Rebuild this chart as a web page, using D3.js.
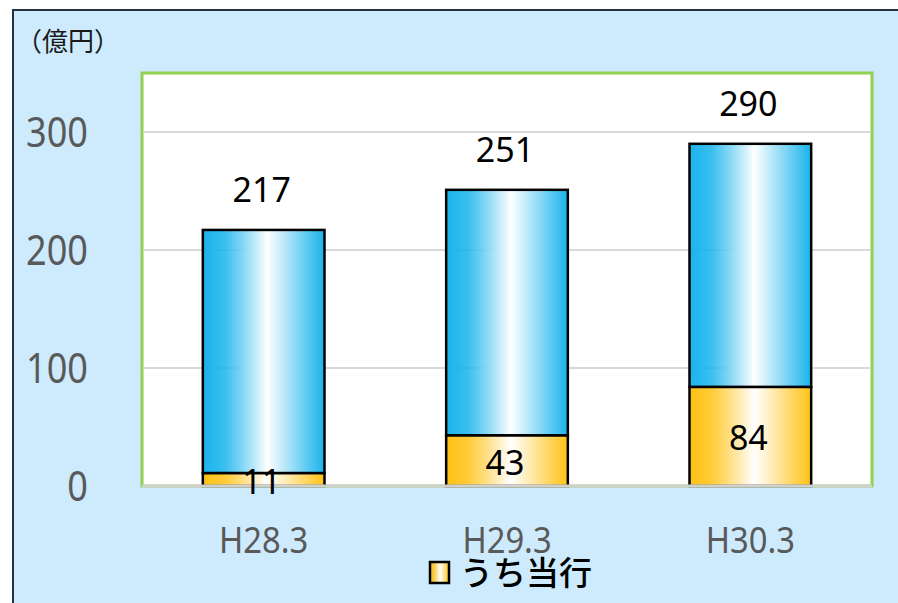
<!DOCTYPE html>
<html>
<head>
<meta charset="utf-8">
<script src="https://cdn.jsdelivr.net/npm/d3@7"></script>
<style>
  body { margin: 0; background: #ffffff; }
  svg { display: block; }
</style>
</head>
<body>
<div id="chart"></div>
<script>
// Chart data
const categories = ["H28.3", "H29.3", "H30.3"];
const totalValues = [217, 251, 290];
const ownValues = [11, 43, 84];
const yTicks = [0, 100, 200, 300];
const unitLabel = "（億円）";
const legendLabel = "うち当行";

const W = 898, H = 603;
const margin = { top: 73, right: 26, bottom: 117, left: 142 };
const width = W - margin.left - margin.right;
const height = H - margin.top - margin.bottom;

const svgRoot = d3.select("#chart")
    .append("svg")
    .attr("width", W)
    .attr("height", H);

// Gradients
const defs = svgRoot.append("defs");
function addGradient(id, color) {
    const g = defs.append("linearGradient")
        .attr("id", id)
        .attr("x1", "0%").attr("x2", "100%")
        .attr("y1", "0%").attr("y2", "0%");
    g.append("stop").attr("offset", "0%").attr("stop-color", color);
    g.append("stop").attr("offset", "18%").attr("stop-color", color).attr("stop-opacity", 0.85);
    g.append("stop").attr("offset", "53%").attr("stop-color", "#ffffff");
    g.append("stop").attr("offset", "100%").attr("stop-color", color);
}
addGradient("gradBlue", "#18b3ec");
addGradient("gradYellow", "#ffc214");

// Chart background and outer border (left/top only visible)
svgRoot.append("rect")
    .attr("x", 13).attr("y", 10)
    .attr("width", W - 13).attr("height", H - 10)
    .attr("fill", "#cdebfd");
svgRoot.append("path")
    .attr("d", `M13,${H} L13,10 L${W},10`)
    .attr("fill", "none")
    .attr("stroke", "#26323d")
    .attr("stroke-width", 2);

// Unit label
svgRoot.append("text")
    .attr("x", 16)
    .attr("y", 51)
    .style("font-family", "'Noto Sans CJK JP'")
    .style("font-size", "26px")
    .attr("fill", "#1a1a1a")
    .text(unitLabel);

const svg = svgRoot.append("g")
    .attr("transform", "translate(" + margin.left + "," + margin.top + ")");

// Plot area
svg.append("rect")
    .attr("x", 0).attr("y", 0)
    .attr("width", width).attr("height", height)
    .attr("fill", "#ffffff")
    .attr("stroke", "#92d050")
    .attr("stroke-width", 3);

// Scales
const xScale = d3.scaleBand()
    .domain(categories)
    .range([0, width])
    .paddingInner(0.5)
    .paddingOuter(0.25);

const yScale = d3.scaleLinear()
    .domain([0, 350])
    .range([height, 0]);

// Gridlines
svg.selectAll(".grid")
    .data(yTicks.filter(d => d > 0))
    .enter()
    .append("line")
    .attr("class", "grid")
    .attr("x1", 1.5).attr("x2", width - 1.5)
    .attr("y1", d => yScale(d)).attr("y2", d => yScale(d))
    .attr("stroke", "#d9d9d9")
    .attr("stroke-width", 2);

// Y axis labels
const yAxis = svg.append("g")
    .call(d3.axisLeft(yScale).tickValues(yTicks).tickSize(0).tickPadding(54));
yAxis.select(".domain").remove();
yAxis.selectAll("text")
    .attr("x", 0)
    .attr("dy", "0.36em")
    .attr("transform", "translate(-54,0) scale(0.88,1)")
    .style("font-family", "'Noto Sans'")
    .style("font-size", "41px")
    .attr("fill", "#595959");

// Bars: bank's own share (bottom)
svg.selectAll(".bar-own")
    .data(categories)
    .enter()
    .append("rect")
    .attr("class", "bar-own")
    .attr("x", d => xScale(d))
    .attr("y", (d, i) => yScale(ownValues[i]))
    .attr("width", xScale.bandwidth())
    .attr("height", (d, i) => height - yScale(ownValues[i]))
    .attr("fill", "url(#gradYellow)")
    .attr("stroke", "#000")
    .attr("stroke-width", 2.5);

// Bars: remainder up to total (top)
svg.selectAll(".bar-rest")
    .data(categories)
    .enter()
    .append("rect")
    .attr("class", "bar-rest")
    .attr("x", d => xScale(d))
    .attr("y", (d, i) => yScale(totalValues[i]))
    .attr("width", xScale.bandwidth())
    .attr("height", (d, i) => yScale(ownValues[i]) - yScale(totalValues[i]))
    .attr("fill", "url(#gradBlue)")
    .attr("stroke", "#000")
    .attr("stroke-width", 2.5);

// X axis line
svg.append("line")
    .attr("x1", 0).attr("x2", width)
    .attr("y1", height).attr("y2", height)
    .attr("stroke", "#d0d0d0")
    .attr("stroke-width", 3);

// X axis labels
const xAxis = svg.append("g")
    .attr("transform", "translate(0," + height + ")")
    .call(d3.axisBottom(xScale).tickSize(0));
xAxis.select(".domain").remove();
xAxis.selectAll("text")
    .attr("y", 0)
    .attr("dy", 0)
    .attr("transform", "translate(0,67) scale(0.91,1)")
    .style("font-family", "'Noto Sans'")
    .style("font-size", "36px")
    .attr("fill", "#595959");

// Total labels above bars
svg.selectAll(".label-total")
    .data(categories)
    .enter()
    .append("text")
    .attr("class", "label-total")
    .attr("x", d => xScale(d) + xScale.bandwidth() / 2 - 2)
    .attr("y", (d, i) => yScale(totalValues[i]) - 28)
    .attr("text-anchor", "middle")
    .style("font-family", "'Noto Sans'")
    .style("font-size", "34px")
    .attr("fill", "#000")
    .text((d, i) => totalValues[i]);

// Own-share labels inside the bottom segment
svg.selectAll(".label-own")
    .data(categories)
    .enter()
    .append("text")
    .attr("class", "label-own")
    .attr("x", d => xScale(d) + xScale.bandwidth() / 2 - 2)
    .attr("y", (d, i) => (yScale(ownValues[i]) + height) / 2 + 14)
    .attr("text-anchor", "middle")
    .style("font-family", "'Noto Sans'")
    .style("font-size", "34px")
    .attr("fill", "#000")
    .text((d, i) => ownValues[i]);

// Legend
const legend = svgRoot.append("g")
    .attr("transform", "translate(429,561)");
legend.append("rect")
    .attr("x", 1).attr("y", 1)
    .attr("width", 19).attr("height", 21)
    .attr("fill", "url(#gradYellow)")
    .attr("stroke", "#000")
    .attr("stroke-width", 2.5);
legend.append("text")
    .attr("x", 31)
    .attr("y", 24)
    .style("font-family", "'Noto Sans CJK JP'")
    .style("font-size", "33px")
    .style("font-weight", "500")
    .attr("fill", "#000")
    .text(legendLabel);
</script>
</body>
</html>
